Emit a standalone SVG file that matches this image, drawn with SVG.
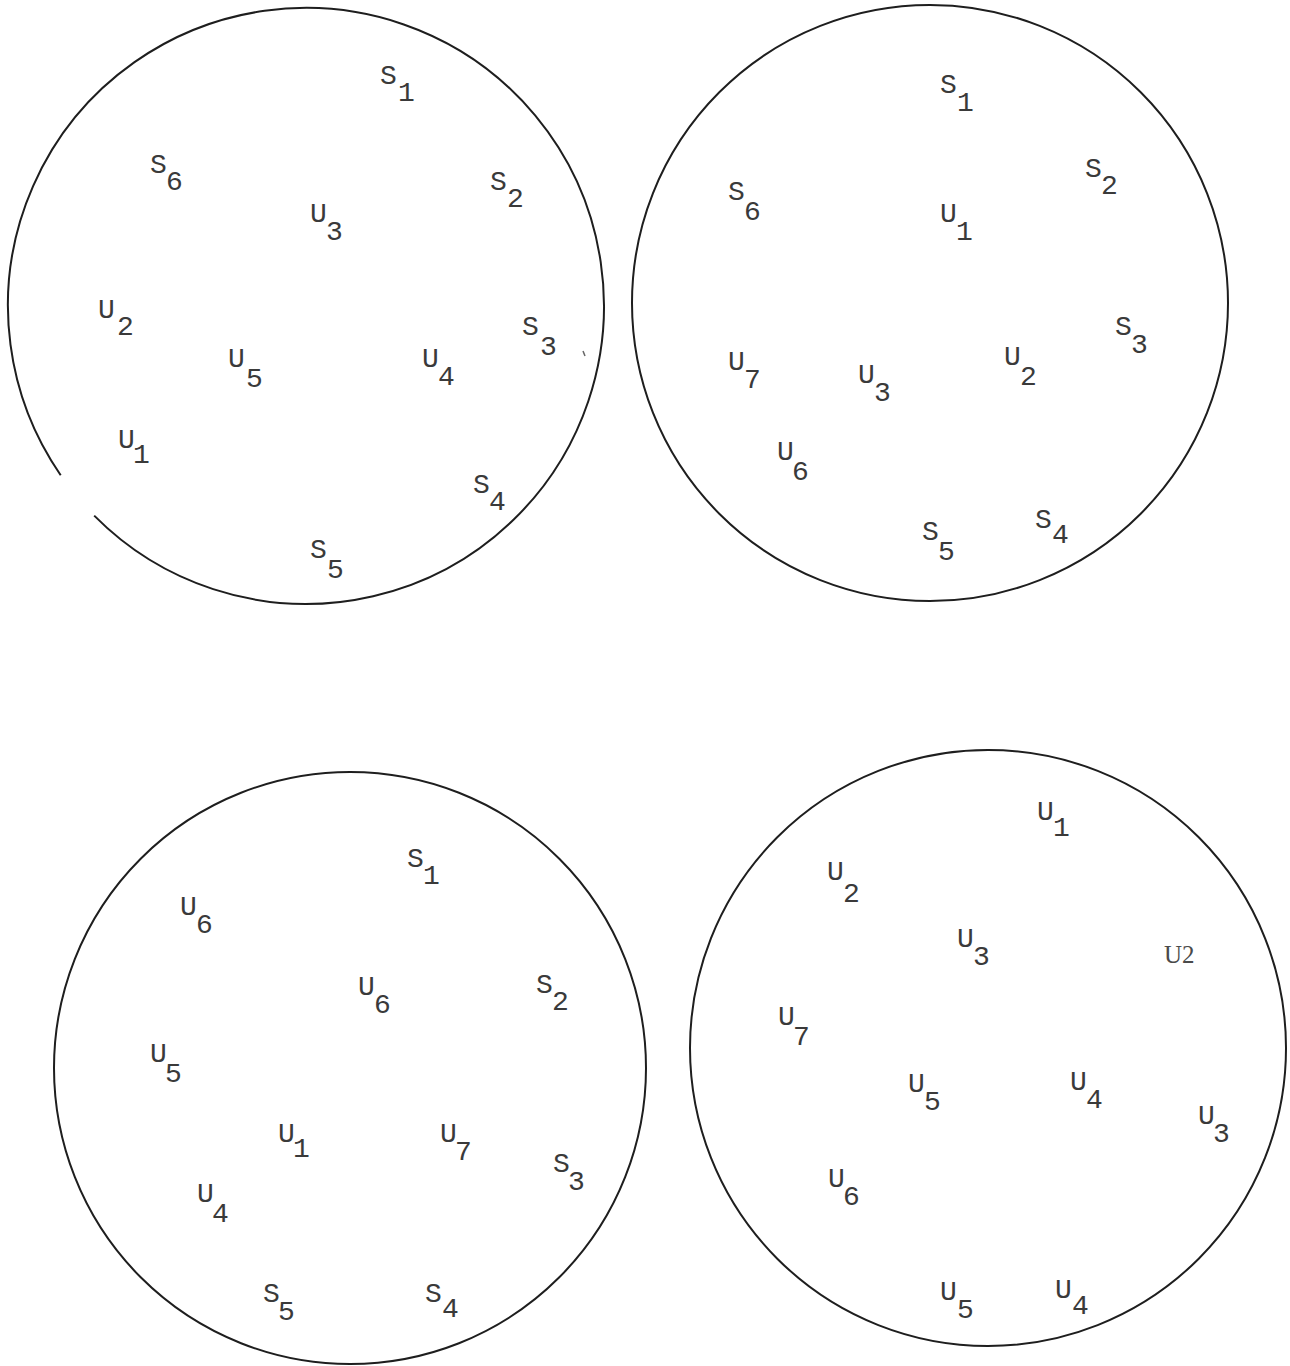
<svg xmlns="http://www.w3.org/2000/svg" width="1290" height="1366" viewBox="0 0 1290 1366">
<style>
.c{fill:none;stroke:#1e1e1e;stroke-width:2}
.t{font-family:"Liberation Mono","Courier New",monospace;font-size:28px;fill:#3a3a3a}
.r{font-family:"Liberation Serif","Times New Roman",serif;font-size:25px;fill:#4a4a4a}
</style>
<rect width="1290" height="1366" fill="#fff"/>
<g id="circle1">
<path class="c" d="M 60.7 475.2 A 298 298 0 1 1 94.2 515.6"/>
<path d="M 583 351 L 585 356" stroke="#666" stroke-width="1.5"/>
<g id="c1-S1"><text class="t" x="380" y="84">S<tspan x="398" y="101">1</tspan></text></g>
<g id="c1-S6"><text class="t" x="150" y="173">S<tspan x="166" y="190">6</tspan></text></g>
<g id="c1-S2"><text class="t" x="490" y="190">S<tspan x="507" y="207">2</tspan></text></g>
<g id="c1-U3"><text class="t" x="310" y="222">U<tspan x="326" y="240">3</tspan></text></g>
<g id="c1-U2"><text class="t" x="98" y="318">U<tspan x="117" y="335">2</tspan></text></g>
<g id="c1-S3"><text class="t" x="522" y="335">S<tspan x="540" y="355">3</tspan></text></g>
<g id="c1-U5"><text class="t" x="228" y="367">U<tspan x="246" y="387">5</tspan></text></g>
<g id="c1-U4"><text class="t" x="422" y="367">U<tspan x="438" y="385">4</tspan></text></g>
<g id="c1-U1"><text class="t" x="118" y="448">U<tspan x="133" y="463">1</tspan></text></g>
<g id="c1-S4"><text class="t" x="473" y="493">S<tspan x="489" y="510">4</tspan></text></g>
<g id="c1-S5"><text class="t" x="310" y="558">S<tspan x="327" y="578">5</tspan></text></g>
</g>
<g id="circle2">
<circle class="c" cx="930" cy="303" r="298"/>
<g id="c2-S1"><text class="t" x="940" y="93">S<tspan x="957" y="111">1</tspan></text></g>
<g id="c2-S2"><text class="t" x="1085" y="177">S<tspan x="1101" y="194">2</tspan></text></g>
<g id="c2-S6"><text class="t" x="728" y="200">S<tspan x="744" y="220">6</tspan></text></g>
<g id="c2-U1"><text class="t" x="940" y="222">U<tspan x="956" y="240">1</tspan></text></g>
<g id="c2-S3"><text class="t" x="1115" y="335">S<tspan x="1131" y="353">3</tspan></text></g>
<g id="c2-U7"><text class="t" x="728" y="370">U<tspan x="744" y="388">7</tspan></text></g>
<g id="c2-U3"><text class="t" x="858" y="383">U<tspan x="874" y="401">3</tspan></text></g>
<g id="c2-U2"><text class="t" x="1004" y="365">U<tspan x="1020" y="385">2</tspan></text></g>
<g id="c2-U6"><text class="t" x="777" y="460">U<tspan x="792" y="480">6</tspan></text></g>
<g id="c2-S5"><text class="t" x="922" y="540">S<tspan x="938" y="560">5</tspan></text></g>
<g id="c2-S4"><text class="t" x="1035" y="528">S<tspan x="1052" y="543">4</tspan></text></g>
</g>
<g id="circle3">
<circle class="c" cx="350" cy="1068" r="296"/>
<g id="c3-S1"><text class="t" x="407" y="867">S<tspan x="423" y="884">1</tspan></text></g>
<g id="c3-U6a"><text class="t" x="180" y="915">U<tspan x="196" y="933">6</tspan></text></g>
<g id="c3-U6b"><text class="t" x="358" y="995">U<tspan x="374" y="1013">6</tspan></text></g>
<g id="c3-S2"><text class="t" x="536" y="993">S<tspan x="552" y="1010">2</tspan></text></g>
<g id="c3-U5"><text class="t" x="150" y="1062">U<tspan x="165" y="1082">5</tspan></text></g>
<g id="c3-U1"><text class="t" x="278" y="1142">U<tspan x="293" y="1157">1</tspan></text></g>
<g id="c3-U7"><text class="t" x="440" y="1142">U<tspan x="455" y="1160">7</tspan></text></g>
<g id="c3-S3"><text class="t" x="553" y="1172">S<tspan x="568" y="1190">3</tspan></text></g>
<g id="c3-U4"><text class="t" x="197" y="1202">U<tspan x="212" y="1222">4</tspan></text></g>
<g id="c3-S5"><text class="t" x="263" y="1302">S<tspan x="278" y="1320">5</tspan></text></g>
<g id="c3-S4"><text class="t" x="425" y="1302">S<tspan x="442" y="1317">4</tspan></text></g>
</g>
<g id="circle4">
<circle class="c" cx="988" cy="1048" r="298"/>
<g id="c4-U1"><text class="t" x="1037" y="820">U<tspan x="1053" y="836">1</tspan></text></g>
<g id="c4-U2a"><text class="t" x="827" y="880">U<tspan x="843" y="902">2</tspan></text></g>
<g id="c4-U3a"><text class="t" x="957" y="947">U<tspan x="973" y="965">3</tspan></text></g>
<g id="c4-U2b"><text class="r" x="1164" y="963">U2</text></g>
<g id="c4-U7"><text class="t" x="778" y="1025">U<tspan x="793" y="1045">7</tspan></text></g>
<g id="c4-U5a"><text class="t" x="908" y="1092">U<tspan x="924" y="1110">5</tspan></text></g>
<g id="c4-U4a"><text class="t" x="1070" y="1090">U<tspan x="1086" y="1108">4</tspan></text></g>
<g id="c4-U3b"><text class="t" x="1198" y="1124">U<tspan x="1213" y="1142">3</tspan></text></g>
<g id="c4-U6"><text class="t" x="828" y="1187">U<tspan x="843" y="1205">6</tspan></text></g>
<g id="c4-U5b"><text class="t" x="940" y="1300">U<tspan x="957" y="1318">5</tspan></text></g>
<g id="c4-U4b"><text class="t" x="1055" y="1298">U<tspan x="1072" y="1314">4</tspan></text></g>
</g>
</svg>
